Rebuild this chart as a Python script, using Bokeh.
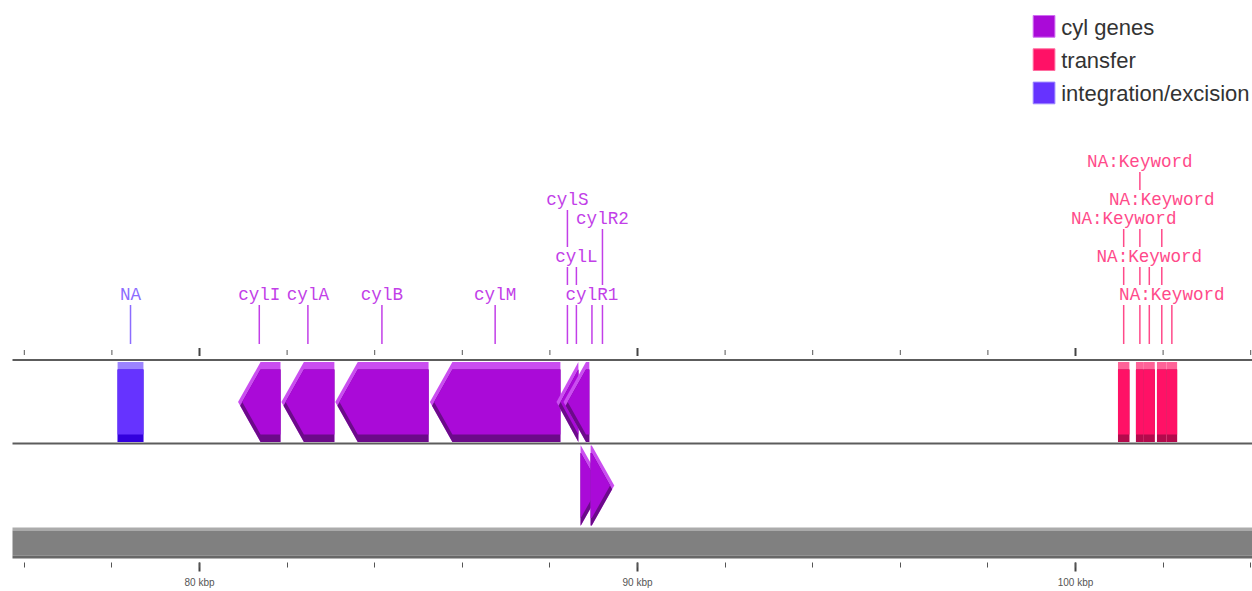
import numpy as np
from bokeh.plotting import figure
from bokeh.models import Range1d, FixedTicker, ColumnDataSource
from bokeh.core.properties import value
from bokeh.embed import file_html
from bokeh.resources import INLINE

# ---------------- data ----------------
gene_names = ["NA", "cylI", "cylA", "cylB", "cylM", "cylS", "cylL", "cylR1", "cylR2",
              "NA:Keyword", "NA:Keyword", "NA:Keyword", "NA:Keyword", "NA:Keyword"]
gene_start = [78.13, 80.88, 81.87, 83.10, 85.26, 88.15, 88.31, 88.70, 88.93,
              100.97, 101.38, 101.56, 101.86, 102.08]
gene_end = [78.72, 81.85, 83.08, 85.23, 88.24, 88.65, 88.90, 89.22, 89.47,
            101.23, 101.56, 101.81, 102.08, 102.32]
gene_strand = [-1, -1, -1, -1, -1, -1, -1, 1, 1, -1, -1, -1, -1, -1]
gene_category = ["integration/excision"] + ["cyl genes"] * 8 + ["transfer"] * 5

legend_labels = ["cyl genes", "transfer", "integration/excision"]
major_ticks = [80, 90, 100]
major_tick_labels = ["80 kbp", "90 kbp", "100 kbp"]
minor_ticks = list(range(76, 106, 2))

# ---------------- styles / layout ----------------
style = {
    "cyl genes": dict(main="#aa0ad8", light="#ca4ef0", dark="#6c0a8a", label="#c23fe8",
                      edge="#cf6cf2", arrow=True),
    "transfer": dict(main="#ff1166", light="#ff6398", dark="#b30a4c", label="#ff4a8a",
                     edge="#ff6ea0", arrow=False),
    "integration/excision": dict(main="#6633ff", light="#9c84ff", dark="#3300dd",
                                 label="#8c6cff", edge="#9a86ff", arrow=False),
}
# label stacking row (0 = lowest row) for each feature label
label_row = [0, 0, 0, 0, 0, 5, 2, 0, 4, 4, 7, 2, 5, 0]

W, H = 1252, 591
BOTTOM_BORDER = 29
PX = 43.8                      # pixels per kbp
X_START = 80 - 199 / PX
X_END = X_START + W / PX
Y_BOTTOM = H - BOTTOM_BORDER   # y range expressed in page pixels


def sx(px):
    return X_START + px / PX


HEAD = 22.5 / PX
LIGHT, DARK = 7.5, 7.5
TRACKS = {-1: (361.5, 441.5), 1: (445.0, 525.0)}

p = figure(width=W, height=H, x_range=Range1d(X_START, X_END), y_range=Range1d(Y_BOTTOM, 0),
           output_backend="svg", toolbar_location=None, min_border_left=0, min_border_right=0,
           min_border_top=0, min_border_bottom=BOTTOM_BORDER, outline_line_color=None,
           y_axis_location=None, background_fill_color="white", border_fill_color="white")
p.xgrid.visible = False
p.ygrid.visible = False

# bottom axis
ax = p.xaxis[0]
ax.ticker = FixedTicker(ticks=major_ticks, minor_ticks=minor_ticks)
ax.major_label_overrides = {t: l for t, l in zip(major_ticks, major_tick_labels)}
ax.axis_line_color = None
ax.major_tick_in = 0
ax.major_tick_out = 9
ax.minor_tick_in = 0
ax.minor_tick_out = 5
ax.major_tick_line_color = "#444444"
ax.major_tick_line_width = 2
ax.minor_tick_line_color = "#555555"
ax.minor_tick_line_width = 1
ax.major_label_text_font = "Liberation Sans"
ax.major_label_text_font_size = "10px"
ax.major_label_text_color = "#555555"
ax.major_label_standoff = 5

# track lines and backbone
x0, x1 = sx(12), X_END + 1
p.segment(x0=[x0, x0], x1=[x1, x1], y0=[359.5, 443.0], y1=[359.5, 443.0],
          line_color="#5c5c5c", line_width=2)
p.quad(left=[x0] * 3, right=[x1] * 3, top=[527, 530, 555], bottom=[530, 555, 558],
       fill_color=["#ababab", "#808080", "#676767"], line_color=None)

# top ticks
p.segment(x0=minor_ticks, x1=minor_ticks, y0=[349.5] * len(minor_ticks), y1=[354.5] * len(minor_ticks),
          line_color="#555555", line_width=1)
p.segment(x0=major_ticks, x1=major_ticks, y0=[347.5] * 3, y1=[355.5] * 3,
          line_color="#444444", line_width=2)

# features
xs, ys, cols = [], [], []
for s0, e0, st, cat in zip(gene_start, gene_end, gene_strand, gene_category):
    top, bot = TRACKS[st]
    stl = style[cat]
    if stl["arrow"]:
        h = (bot - top) / 2
        m = top + h
        head = min(HEAD, e0 - s0)
        if st < 0:
            t, s, r = s0, s0 + head, e0
        else:
            t, s, r = e0, e0 - head, s0
        P = ([t, s, r, r, s], [m, top, top, bot, bot])
        tq = t + (s - t) * LIGHT / (2 * h)
        Q = ([tq, s, r, r, s], [m + LIGHT / 2, top + LIGHT, top + LIGHT, bot, bot])
        tm = t + (s - t) * (LIGHT + DARK) / (2 * h)
        M = ([tm, s, r, r, s], [m + (LIGHT - DARK) / 2, top + LIGHT, top + LIGHT, bot - DARK, bot - DARK])
    else:
        P = ([s0, e0, e0, s0], [top, top, bot, bot])
        Q = ([s0, e0, e0, s0], [top + LIGHT, top + LIGHT, bot, bot])
        M = ([s0, e0, e0, s0], [top + LIGHT, top + LIGHT, bot - DARK, bot - DARK])
    for poly, c in ((P, stl["light"]), (Q, stl["dark"]), (M, stl["main"])):
        xs.append(poly[0])
        ys.append(poly[1])
        cols.append(c)
p.patches(xs="xs", ys="ys", fill_color="c", line_color=None,
          source=ColumnDataSource(dict(xs=xs, ys=ys, c=cols)))

# labels
LABEL_BASE, ROW_STEP, LINE_END = 301.5, 19.0, 343.5
cx = [(a + b) / 2 for a, b in zip(gene_start, gene_end)]
lrow = [LABEL_BASE - ROW_STEP * r for r in label_row]
lc = [style[c]["label"] for c in gene_category]
p.segment(x0=cx, x1=cx, y0=[y + 2.5 for y in lrow], y1=[LINE_END] * len(cx), line_color=lc, line_width=1.5)
p.text(x="x", y="y", text="t", text_color="c",
       source=ColumnDataSource(dict(x=cx, y=[y - 7 for y in lrow], t=gene_names, c=lc)),
       text_font=value("Liberation Mono"), text_font_size="17.6px", text_align="center",
       text_baseline="alphabetic", background_fill_color="white", background_fill_alpha=1.0)

# legend
LEG_X, LEG_Y, LEG_SZ, LEG_STEP = 1032.7, 15.0, 21.7, 33.3
lx0, lx1 = sx(LEG_X), sx(LEG_X + LEG_SZ)
tops = [LEG_Y + i * LEG_STEP for i in range(len(legend_labels))]
p.quad(left=[lx0] * 3, right=[lx1] * 3, top=tops, bottom=[t + LEG_SZ for t in tops],
       fill_color=[style[l]["main"] for l in legend_labels],
       line_color=[style[l]["edge"] for l in legend_labels], line_width=1)
p.text(x=[sx(LEG_X + LEG_SZ + 6.3)] * 3, y=[t + 11.5 for t in tops], text=legend_labels,
       text_font=value("Liberation Sans"), text_font_size="22px", text_color="#333333",
       text_baseline="alphabetic", text_align="left")

open("out.html", "w").write(file_html(p, INLINE))
